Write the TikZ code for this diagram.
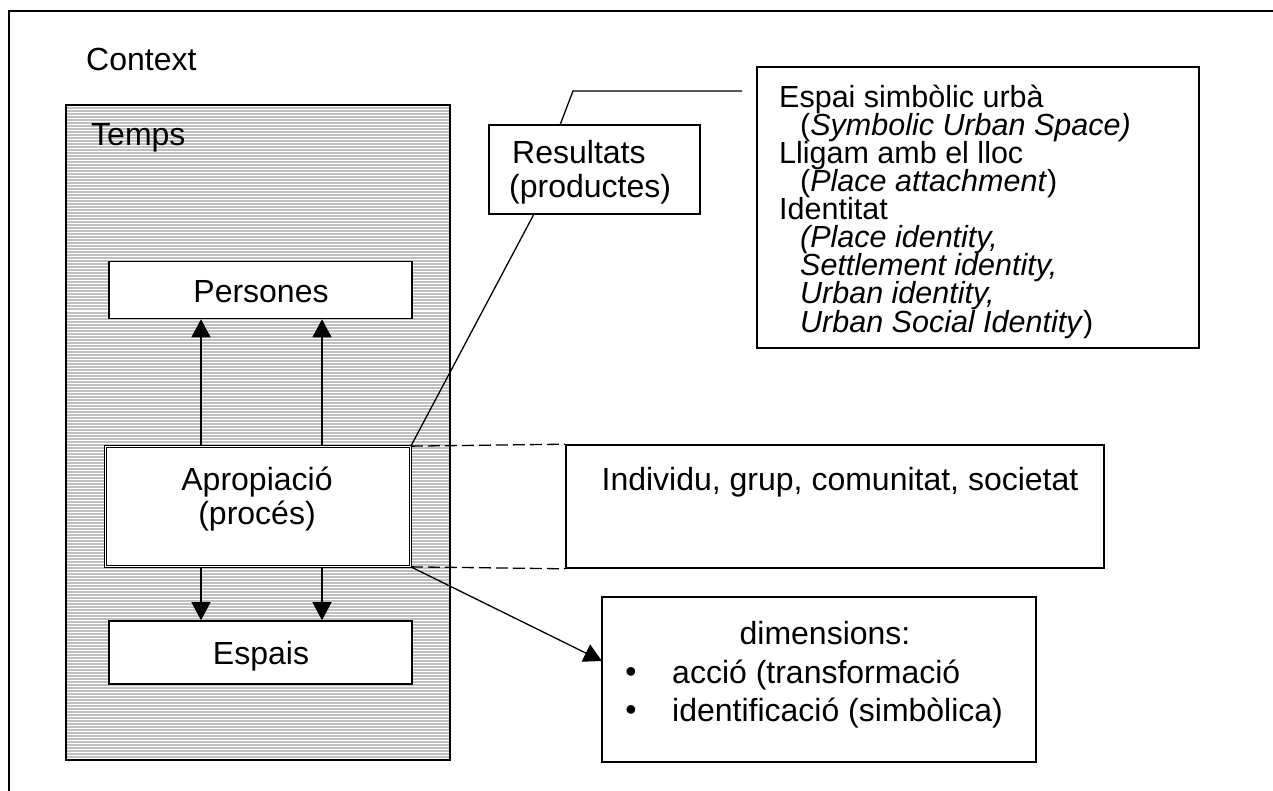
\documentclass[tikz,border=0pt]{standalone}
\usepackage{fontspec}
\setmainfont{Liberation Sans}
\usetikzlibrary{arrows.meta}
\definecolor{stripegray}{RGB}{192,192,192}
\begin{document}
\begin{tikzpicture}[x=1pt,y=-1pt,
  box/.style={draw, line width=1.6pt, fill=white, inner sep=0pt},
  dbox/.style={draw, line width=0.9pt, double=white, double distance=1.4pt, fill=white, inner sep=0pt},
  txt/.style={inner sep=0pt, anchor=base west, font=\fontsize{32}{35}\selectfont},
  ctxt/.style={inner sep=0pt, anchor=base, font=\fontsize{32}{35}\selectfont},
  stxt/.style={inner sep=0pt, anchor=base west, font=\fontsize{30.5}{33}\selectfont},
  sitxt/.style={inner sep=0pt, anchor=base west, font=\fontsize{30.5}{33}\selectfont\itshape},
  conn/.style={line width=1.3pt},
  arr/.style={line width=1.3pt, -{Triangle[length=18pt,width=19pt]}},
  dashline/.style={line width=1.3pt, dash pattern=on 12pt off 5pt}
]
\useasboundingbox (0,0) rectangle (1273,791);
\fill[white] (0,0) rectangle (1273,791);

% outer frame (only top and left visible)
\draw[line width=2pt] (8.5,791) -- (8.5,11) -- (1273,11);
\node[txt] (ctx) at (86,71) {Context};

% Temps striped area
\fill[stripegray] (66,105) rectangle (450,760);
\foreach \yy in {107,110,...,759} {\draw[white,line width=1pt] (66,\yy) -- (450,\yy);}
\node[draw, line width=2pt, inner sep=0pt, minimum width=384pt, minimum height=655pt] (temps) at (258,432.5) {};
\node[txt] (tempslbl) at (91,146) {Temps};

% boxes
\node[box, minimum width=303pt, minimum height=57pt] (pers) at (260.5,290) {};
\node[ctxt] (perslbl) at (261,303) {Persones};

\node[dbox, minimum width=304.8pt, minimum height=119.8pt] (apro) at (258,506.5) {};
\node[ctxt] (aprol1) at (257,490) {Apropiació};
\node[ctxt] (aprol2) at (257,524) {(procés)};

\node[box, minimum width=303pt, minimum height=63pt] (esp) at (260.5,652.5) {};
\node[ctxt] (esplbl) at (261,664) {Espais};

\node[box, minimum width=211pt, minimum height=89pt] (res) at (594.5,169.5) {};
\node[txt] (resl1) at (512,164) {Resultats};
\node[txt] (resl2) at (509,198) {(productes)};

\node[box, minimum width=442pt, minimum height=281pt] (sym) at (978,207.5) {};
\node[stxt] (s1) at (779,108) {Espai simbòlic urbà};
\node[stxt] (s2) at (800,136) {(\textit{Symbolic Urban Space)}};
\node[stxt] (s3) at (779,164) {Lligam amb el lloc};
\node[stxt] (s4) at (800,192) {(\textit{Place attachment})};
\node[stxt] (s5) at (779,220) {Identitat};
\node[sitxt] (s6) at (800,248) {(Place identity,};
\node[sitxt] (s7) at (800,276) {Settlement identity,};
\node[sitxt] (s8) at (800,304) {Urban identity,};
\node[stxt] (s9) at (800,332) {\textit{Urban Social Identity})};

\node[box, minimum width=538pt, minimum height=123pt] (ind) at (835,506.5) {};
\node[ctxt] (indlbl) at (840,490) {Individu, grup, comunitat, societat};

\node[box, minimum width=434pt, minimum height=165pt] (dim) at (819,679.5) {};
\node[ctxt] (diml) at (825,644) {dimensions:};
\node[inner sep=0pt, anchor=center, font=\fontsize{32}{35}\selectfont] (b1) at (631,675) {•};
\node[txt] (d1) at (672,683) {acció (transformació};
\node[inner sep=0pt, anchor=center, font=\fontsize{32}{35}\selectfont] (b2) at (631,713) {•};
\node[txt] (d2) at (672,721) {identificació (simbòlica)};

% connector helper coordinates
\coordinate (xa) at (201,0);
\coordinate (xb) at (322,0);
\coordinate (resbot) at (534,214);
\coordinate (restop) at (560,125);
\coordinate (bend) at (573,91);
\coordinate (leaderend) at (742,91);
\coordinate (dimin) at (602,661);

% arrows
\draw[arr] (apro.north -| xa) -- (pers.south -| xa);
\draw[arr] (apro.north -| xb) -- (pers.south -| xb);
\draw[arr] (apro.south -| xa) -- (esp.north -| xa);
\draw[arr] (apro.south -| xb) -- (esp.north -| xb);

% dashed links
\draw[dashline] (apro.north east) -- (ind.north west);
\draw[dashline] (apro.south east) -- (ind.south west);

% callout lines
\draw[conn] (apro.north east) -- (resbot);
\draw[conn] (restop) -- (bend) -- (leaderend);

% arrow to dimensions
\draw[arr] (apro.south east) -- (dimin);
\end{tikzpicture}
\end{document}
